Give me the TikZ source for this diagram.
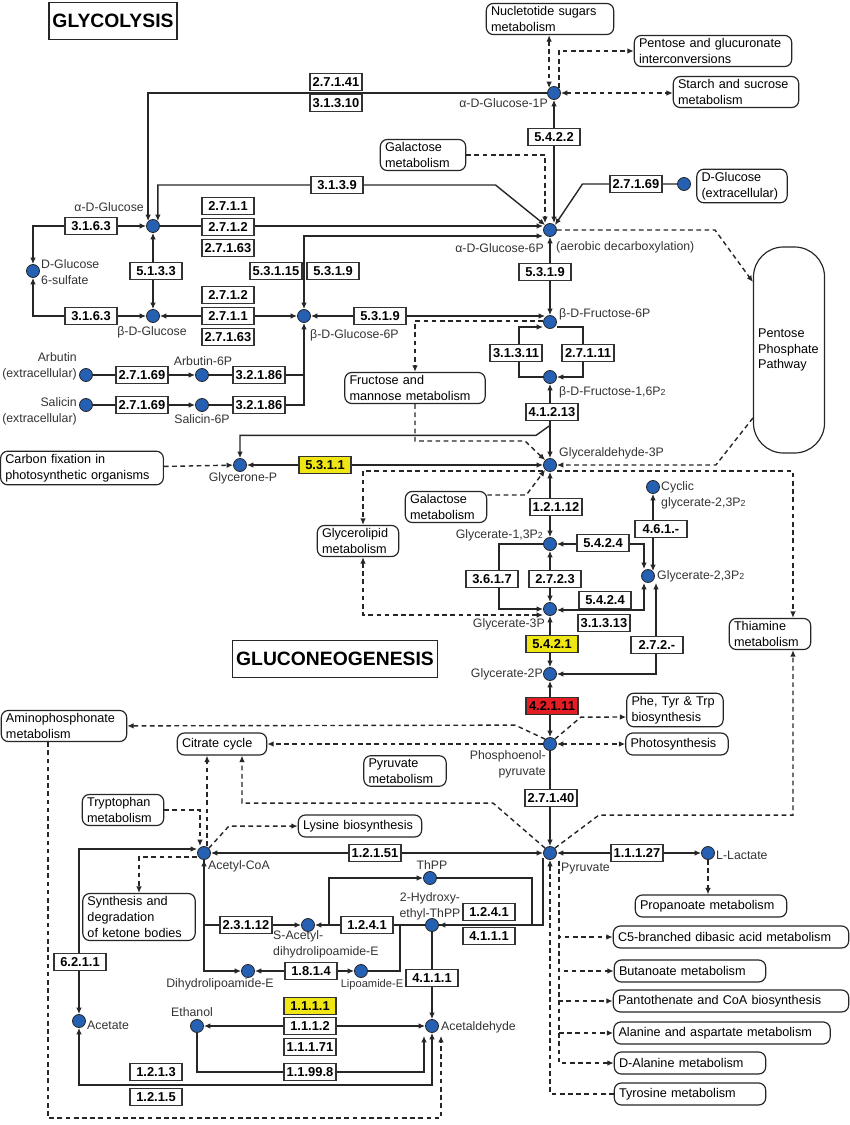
\documentclass[tikz,border=0pt]{standalone}
\usepackage{fontspec}
\setmainfont{Liberation Sans}
\usepackage{tikz}
\usetikzlibrary{arrows.meta,calc,backgrounds}
\definecolor{metblue}{RGB}{38,96,178}
\definecolor{ecyellow}{RGB}{240,230,20}
\definecolor{ecred}{RGB}{228,28,36}
\newcommand{\Ptwo}{P{\fontsize{7.5}{8}\selectfont 2}}

\begin{document}
\begin{tikzpicture}[x=0.03cm, y=-0.03cm,
>={Latex[length=5.5pt,width=4.8pt]},
metab/.style={circle, draw=black!85, fill=metblue, line width=0.7pt, minimum size=0.39cm, inner sep=0pt},
enzyme/.style={draw=black!80, fill=white, line width=0.9pt, minimum width=1.56cm, minimum height=0.51cm, inner sep=0.5pt, font=\fontsize{11}{12}\selectfont\bfseries},
enzhi/.style={enzyme, fill=ecyellow},
enzred/.style={enzyme, fill=ecred},
pathway/.style={draw=black!85, fill=white, rounded corners=6pt, line width=1pt, align=left, text width=#1, inner xsep=4pt, inner ysep=2.5pt, minimum height=0.66cm, font=\fontsize{10.8}{13.6}\selectfont},
lbl/.style={inner sep=0pt, text=black!80, font=\fontsize{10.5}{13.6}\selectfont},
title/.style={draw=black!85, line width=1.2pt, inner xsep=3pt, minimum height=1.1cm, font=\fontsize{16.5}{18}\selectfont\bfseries},
rxn/.style={draw=black!85, line width=1.2pt},
link/.style={draw=black!85, line width=1.2pt, dash pattern=on 4pt off 3pt}
]
\useasboundingbox (0,0) rectangle (850,1125);

\node[title] (glyco) at (113,21) {GLYCOLYSIS};
\node[title] (gluco) at (335,659) {GLUCONEOGENESIS};

\node[metab] (g1p) at (554,93) {};
\node[metab] (g6p) at (550,230) {};
\node[metab] (glcext) at (684,184) {};
\node[metab] (aglc) at (153,226) {};
\node[metab] (g6s) at (33,271) {};
\node[metab] (bglc) at (153,316) {};
\node[metab] (bg6p) at (304,316) {};
\node[metab] (f6p) at (550,322) {};
\node[metab] (fbp) at (550,377) {};
\node[metab] (gap) at (550,465) {};
\node[metab] (dhap) at (240,465) {};
\node[metab] (arb) at (86,375) {};
\node[metab] (a6p) at (202,375) {};
\node[metab] (sal) at (86,405) {};
\node[metab] (s6p) at (202,405) {};
\node[metab] (cycg) at (653,487) {};
\node[metab] (bpg) at (550,544) {};
\node[metab] (g23) at (648,576) {};
\node[metab] (pg3) at (550,609) {};
\node[metab] (pg2) at (550,674) {};
\node[metab] (pep) at (550,744) {};
\node[metab] (pyr) at (550,853) {};
\node[metab] (lac) at (708,853) {};
\node[metab] (accoa) at (204,853) {};
\node[metab] (thpp) at (430,878) {};
\node[metab] (hethpp) at (432,925) {};
\node[metab] (sacdl) at (308,925) {};
\node[metab] (dhl) at (248,971) {};
\node[metab] (lipe) at (361,971) {};
\node[metab] (acald) at (432,1026) {};
\node[metab] (etoh) at (197,1026) {};
\node[metab] (acet) at (79,1021) {};

\node[lbl, anchor=east] (g1plbl) at (548,103) {α-D-Glucose-1P};
\node[lbl, anchor=east] (g6plbl) at (544,248) {α-D-Glucose-6P};
\node[lbl, anchor=west] (aerolbl) at (556,247) {(aerobic decarboxylation)};
\node[lbl, anchor=east] (aglclbl) at (144,207) {α-D-Glucose};
\node[lbl, anchor=west, align=left] (g6slbl) at (41,272) {D-Glucose\\6-sulfate};
\node[lbl] (bglclbl) at (152,332) {β-D-Glucose};
\node[lbl, anchor=west] (bg6plbl) at (310,335) {β-D-Glucose-6P};
\node[lbl, anchor=west] (f6plbl) at (559,314) {β-D-Fructose-6P};
\node[lbl, anchor=west] (fbplbl) at (559,392) {β-D-Fructose-1,6\Ptwo};
\node[lbl, anchor=west] (gaplbl) at (559,453) {Glyceraldehyde-3P};
\node[lbl] (dhaplbl) at (243,478) {Glycerone-P};
\node[lbl, anchor=east, align=right] (arblbl) at (77,366) {Arbutin\\(extracellular)};
\node[lbl] (a6plbl) at (203,361) {Arbutin-6P};
\node[lbl, anchor=east, align=right] (sallbl) at (77,411) {Salicin\\(extracellular)};
\node[lbl] (s6plbl) at (202,419) {Salicin-6P};
\node[lbl, anchor=west, align=left] (cycglbl) at (661,495) {Cyclic\\glycerate-2,3\Ptwo};
\node[lbl, anchor=east] (bpglbl) at (543,535) {Glycerate-1,3\Ptwo};
\node[lbl, anchor=west] (g23lbl) at (657,576) {Glycerate-2,3\Ptwo};
\node[lbl, anchor=east] (pg3lbl) at (545,624) {Glycerate-3P};
\node[lbl, anchor=east] (pg2lbl) at (543,674) {Glycerate-2P};
\node[lbl, anchor=north east, align=right] (peplbl) at (546,750) {Phosphoenol-\\pyruvate};
\node[lbl, anchor=west] (pyrlbl) at (561,869) {Pyruvate};
\node[lbl, anchor=west] (laclbl) at (716,855) {L-Lactate};
\node[lbl, anchor=west] (accoalbl) at (208,866) {Acetyl-CoA};
\node[lbl] (thpplbl) at (432,865) {ThPP};
\node[lbl, align=center] (hethpplbl) at (430,906) {2-Hydroxy-\\ethyl-ThPP};
\node[lbl, anchor=north west, align=left] (sacdllbl) at (273,930) {S-Acetyl-\\dihydrolipoamide-E};
\node[lbl] (dhllbl) at (220,984) {Dihydrolipoamide-E};
\node[lbl, font=\fontsize{9.5}{11}\selectfont] (lipelbl) at (372,985) {Lipoamide-E};
\node[lbl, anchor=west] (acaldlbl) at (441,1027) {Acetaldehyde};
\node[lbl] (etohlbl) at (192,1012) {Ethanol};
\node[lbl, anchor=west] (acetlbl) at (87,1025) {Acetate};

\node[enzyme] (e2741) at (336,82) {2.7.1.41};
\node[enzyme] (e31310) at (336,103) {3.1.3.10};
\node[enzyme] (e3139) at (337,185) {3.1.3.9};
\node[enzyme] (e5422) at (554,137) {5.4.2.2};
\node[enzyme] (e27169a) at (636,184) {2.7.1.69};
\node[enzyme] (e2711a) at (228,206) {2.7.1.1};
\node[enzyme] (e2712a) at (228,227) {2.7.1.2};
\node[enzyme] (e27163a) at (228,248) {2.7.1.63};
\node[enzyme] (e3163a) at (91,226) {3.1.6.3};
\node[enzyme] (e5133) at (156,271) {5.1.3.3};
\node[enzyme] (e53115) at (276,271) {5.3.1.15};
\node[enzyme] (e5319a) at (333,271) {5.3.1.9};
\node[enzyme] (e5319b) at (545,272) {5.3.1.9};
\node[enzyme] (e3163b) at (91,316) {3.1.6.3};
\node[enzyme] (e2712b) at (228,295) {2.7.1.2};
\node[enzyme] (e2711b) at (228,316) {2.7.1.1};
\node[enzyme] (e27163b) at (228,337) {2.7.1.63};
\node[enzyme] (e5319c) at (380,316) {5.3.1.9};
\node[enzyme] (e27169b) at (142,375) {2.7.1.69};
\node[enzyme] (e32186a) at (259,375) {3.2.1.86};
\node[enzyme] (e27169c) at (142,405) {2.7.1.69};
\node[enzyme] (e32186b) at (259,405) {3.2.1.86};
\node[enzyme] (e31311) at (516,353) {3.1.3.11};
\node[enzyme] (e27111) at (588,353) {2.7.1.11};
\node[enzyme] (e41213) at (552,412) {4.1.2.13};
\node[enzhi] (e5311) at (325,465) {5.3.1.1};
\node[enzyme] (e12112) at (556,507) {1.2.1.12};
\node[enzyme] (e461) at (661,529) {4.6.1.-};
\node[enzyme] (e5424a) at (603,543) {5.4.2.4};
\node[enzyme] (e3617) at (492,579) {3.6.1.7};
\node[enzyme] (e2723) at (555,579) {2.7.2.3};
\node[enzyme] (e5424b) at (605,600) {5.4.2.4};
\node[enzyme] (e31313) at (604,623) {3.1.3.13};
\node[enzhi] (e5421) at (552,644) {5.4.2.1};
\node[enzyme] (e272) at (657,645) {2.7.2.-};
\node[enzred] (e42111) at (552,706) {4.2.1.11};
\node[enzyme] (e27140) at (551,798) {2.7.1.40};
\node[enzyme] (e12151) at (375,853) {1.2.1.51};
\node[enzyme] (e11127) at (637,853) {1.1.1.27};
\node[enzyme] (e1241a) at (489,912) {1.2.4.1};
\node[enzyme] (e4111a) at (489,936) {4.1.1.1};
\node[enzyme] (e1241b) at (367,925) {1.2.4.1};
\node[enzyme] (e23112) at (246,925) {2.3.1.12};
\node[enzyme] (e1814) at (311,971) {1.8.1.4};
\node[enzyme] (e4111b) at (432,978) {4.1.1.1};
\node[enzhi] (e1111) at (310,1006) {1.1.1.1};
\node[enzyme] (e1112) at (310,1026) {1.1.1.2};
\node[enzyme] (e11171) at (310,1047) {1.1.1.71};
\node[enzyme] (e11998) at (310,1072) {1.1.99.8};
\node[enzyme] (e1213) at (156,1072) {1.2.1.3};
\node[enzyme] (e1215) at (156,1097) {1.2.1.5};
\node[enzyme] (e6211) at (80,962) {6.2.1.1};

\node[pathway=3.54cm] (nucsug) at (550,19) {Nucletotide sugars\\metabolism};
\node[pathway=4.44cm] (pentglc) at (713,51) {Pentose and glucuronate\\interconversions};
\node[pathway=3.48cm] (starch) at (736,92) {Starch and sucrose\\metabolism};
\node[pathway=2.28cm] (galact1) at (423,155) {Galactose\\metabolism};
\node[pathway=2.43cm] (glcextbox) at (742,186) {D-Glucose\\(extracellular)};
\node[pathway=1.85cm, minimum height=6.18cm, rounded corners=0.9cm] (ppp) at (789,350) {Pentose\\Phosphate\\Pathway};
\node[pathway=3.93cm] (frumann) at (415,388) {Fructose and\\mannose metabolism};
\node[pathway=4.6cm] (carbfix) at (82,468) {Carbon fixation in\\photosynthetic organisms};
\node[pathway=2.16cm] (galact2) at (446,507) {Galactose\\metabolism};
\node[pathway=2.16cm] (glycerolipid) at (358,541) {Glycerolipid\\metabolism};
\node[pathway=2.16cm] (thiamine) at (770,634) {Thiamine\\metabolism};
\node[pathway=2.61cm] (phetyr) at (675,710) {Phe, Tyr \& Trp\\biosynthesis};
\node[pathway=2.79cm] (photosyn) at (677,744) {Photosynthesis};
\node[pathway=3.48cm] (aminophos) at (64,726) {Aminophosphonate\\metabolism};
\node[pathway=2.4cm] (citrate) at (222,744) {Citrate cycle};
\node[pathway=2.19cm] (pyrmet) at (405,771) {Pyruvate\\metabolism};
\node[pathway=2.16cm] (tryp) at (123,810) {Tryptophan\\metabolism};
\node[pathway=3.42cm] (lysine) at (360,826) {Lysine biosynthesis};
\node[pathway=3.09cm] (ketone) at (139,917) {Synthesis and\\degradation\\of ketone bodies};
\node[pathway=4.26cm] (propan) at (711,906) {Propanoate metabolism};
\node[pathway=6.78cm] (c5) at (731,937) {C5-branched dibasic acid metabolism};
\node[pathway=4.26cm] (butan) at (690,971) {Butanoate metabolism};
\node[pathway=6.78cm] (panto) at (731,1001) {Pantothenate and CoA biosynthesis};
\node[pathway=6.21cm] (alaasp) at (722,1033) {Alanine and aspartate metabolism};
\node[pathway=4.26cm] (dala) at (690,1063) {D-Alanine metabolism};
\node[pathway=4.26cm] (tyros) at (690,1094) {Tyrosine metabolism};

\begin{scope}[on background layer]
\draw[rxn,->] (g1p) -| (aglc.north west);
\draw[rxn,<->] (aglc.north east) |- ($(e3139.east)+(132,0)$) -- (g6p.north west);
\draw[rxn,->] (glcext) -- ($(e27169a.west)+(-27,0)$) -- (g6p.north east);
\draw[rxn,->] (aglc) -- (aglc -| g6p.west);
\draw[rxn,<->] (bg6p) |- ($(g6p.west)+(0,6)$);
\draw[rxn,<->] (aglc) -| (g6s);
\draw[rxn,<->] (bglc) -| (g6s);
\draw[rxn,<->] (aglc) -- (bglc);
\draw[rxn,<->] (bglc) -- (bg6p);
\draw[rxn,<->] (bg6p) -- (bg6p -| f6p.north west);
\draw[rxn,<->] (g6p) -- (f6p);
\draw[rxn,<->] (g1p) -- (g1p |- g6p.north);
\draw[link,->] (galact1) -| ($(g6p.north)+(-5,0)$);
\draw[link,<->] (g1p.north west |- nucsug.south) -- (g1p.north west);
\draw[link,->] (g1p.north east) |- (pentglc);
\draw[link,<->] (g1p) -- (g1p -| starch.west);
\draw[link,->] (g6p) -- ++(165,0) -- ($(ppp.west)+(0,-68)$);
\draw[link,->] ($(ppp.west)+(0,68)$) -- ++(-37,47) -- (gap);
\draw[rxn,->] (arb) -- (a6p);
\draw[rxn,->] (sal) -- (s6p);
\draw[rxn] (a6p) -- (a6p -| bg6p);
\draw[rxn,->] (s6p) -| (bg6p);
\draw[rxn,->] (fbp) -- ++(-31,0) |- ($(f6p.west)+(0,5)$);
\draw[rxn,->] ($(f6p.east)+(0,5)$) -- ++(26,0) |- (fbp);
\draw[rxn,<->] (fbp) -- (gap);
\draw[rxn,->] ($(fbp)!0.55!(gap)$) -- ++(-14,10) -| (dhap);
\draw[link,->] ($(f6p.west)+(0,-1)$) -| (frumann);
\draw[link,->] (frumann) -- ++(0,53) -- ++(110,0) -- (gap.north west);
\draw[link,->] ($(galact2.east)+(0,-12)$) -- ++(39,0) -- (gap.south west);
\draw[rxn,<->] (gap) -- (dhap);
\draw[link,->] (carbfix) -- (dhap);
\draw[link,->] ($(gap.west)+(0,6)$) -| ($(glycerolipid.north)+(5,0)$);
\draw[link,->] ($(gap.east)+(0,6)$) -| ($(thiamine.north)+(23,0)$);
\draw[rxn,<->] (gap) -- (bpg);
\draw[rxn,<->] (bpg) -- (pg3);
\draw[rxn,->] (bpg) -- ++(-51,0) |- (pg3);
\draw[rxn,<->] (bpg) -| ($(g23.north)+(-4,0)$);
\draw[rxn,<->] (cycg) -- (cycg |- g23.north east);
\draw[rxn,<->] ($(g23.south)+(-4,0)$) |- ($(pg3.east)+(0,1)$);
\draw[rxn,<->] (pg2) -| ($(g23.south)+(8,0)$);
\draw[link,<->] ($(glycerolipid.south)+(5,0)$) |- ($(pg3.west)+(0,6)$);
\draw[rxn,<->] (pg3) -- (pg2);
\draw[rxn,<->] (pg2) -- (pep);
\draw[rxn,->] (pep) -- (pyr);
\draw[link,->] (pep.north east) -- ++(26,-22) -- ($(phetyr.west)+(0,7)$);
\draw[link,<->] (pep) -- (photosyn);
\draw[link,->] (pep) -- (citrate);
\draw[link,->] (pep.north west) -- ++(-30,-14) -- (aminophos);
\draw[link,->] ($(aminophos.south)+(-16,0)$) -- ++(0,376) -| ($(acald.south)+(9,3)$);
\draw[rxn,<->] (pyr) -- (lac);
\draw[link,->] (lac) -- (lac |- propan.north);
\draw[link,->] (pyr.north east) -- ++(44,-33) -| ($(thiamine.south)+(23,0)$);
\draw[link,->] (pyr.north west) -- ++(-52,-45) -| ($(citrate.south)+(20,0)$);
\draw[link,->] ($(accoa.north)+(3,0)$) -- ($(citrate.south)+(-15,0)$);
\draw[link,->] (tryp) -| ($(accoa.north)+(-4,0)$);
\draw[link,->] (accoa.north east) -- ++(20,-22) -- (lysine);
\draw[link,->] ($(accoa.west)+(0,4)$) -| (ketone);
\draw[rxn,<->] (accoa) -- (pyr);
\draw[rxn,<->] ($(accoa.west)+(0,-4)$) -| (acet);
\draw[rxn,<->] (accoa) |- (sacdl);
\draw[rxn,->] (accoa) |- (dhl);
\draw[rxn,<->] (dhl) -- (lipe);
\draw[rxn] (lipe) -- ++(39,0) |- (hethpp);
\draw[rxn,->] (hethpp) -- (sacdl);
\draw[rxn,->] ($(sacdl.east)+(14,0)$) |- (thpp);
\draw[rxn] (thpp) -- ++(102,0) |- (hethpp);
\draw[rxn,->] ($(pyr.south west)+(-2,0)$) |- (hethpp);
\draw[rxn,->] (hethpp) -- (acald);
\draw[rxn,<->] (etoh) -- (acald);
\draw[rxn,->] (etoh) -- ++(0,46) -| ($(acald.south)+(-8,3)$);
\draw[rxn,<->] (acet) -- ++(0,64) -| (acald);
\coordinate (pyrdash) at ($(pyr.south east)+(4,3)$);
\foreach \p in {c5,butan,panto,alaasp,dala} \draw[link,->] (pyrdash) |- (\p);
\draw[link,->] (tyros) -| (pyr);
\end{scope}
\end{tikzpicture}
\end{document}
